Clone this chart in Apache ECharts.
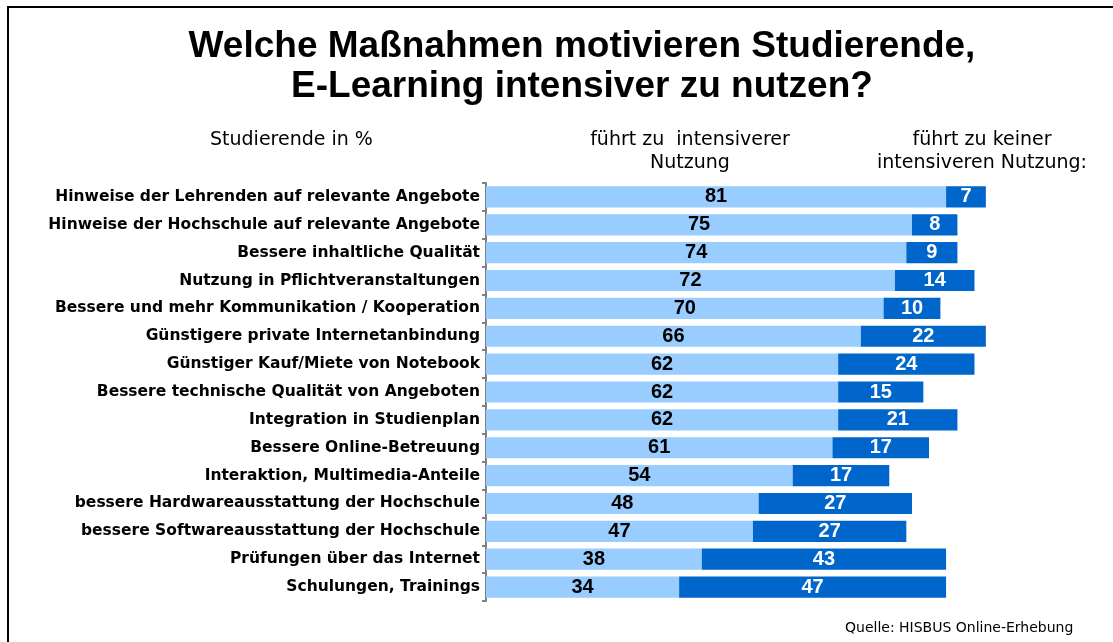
<!DOCTYPE html>
<html>
<head>
<meta charset="utf-8">
<script src="https://cdn.jsdelivr.net/npm/echarts@6/dist/echarts.min.js"></script>
<style>
  html, body { margin: 0; padding: 0; background: #fff; }
  #chart { width: 1113px; height: 642px; }
</style>
</head>
<body>
<div id="chart"></div>
<script>
// Maßnahmen (von oben nach unten)
const categories = [
  'Hinweise der Lehrenden auf relevante Angebote',
  'Hinweise der Hochschule auf relevante Angebote',
  'Bessere inhaltliche Qualität',
  'Nutzung in Pflichtveranstaltungen',
  'Bessere und mehr Kommunikation / Kooperation',
  'Günstigere private Internetanbindung',
  'Günstiger Kauf/Miete von Notebook',
  'Bessere technische Qualität von Angeboten',
  'Integration in Studienplan',
  'Bessere Online-Betreuung',
  'Interaktion, Multimedia-Anteile',
  'bessere Hardwareausstattung der Hochschule',
  'bessere Softwareausstattung der Hochschule',
  'Prüfungen über das Internet',
  'Schulungen, Trainings'
]
// führt zu intensiverer Nutzung
const intensiver = [81, 75, 74, 72, 70, 66, 62, 62, 62, 61, 54, 48, 47, 38, 34]
// führt zu keiner intensiveren Nutzung
const keine = [7, 8, 9, 14, 10, 22, 24, 15, 21, 17, 17, 27, 27, 43, 47]

const font = 'Liberation Sans, Arial, sans-serif'
const wide = 'DejaVu Sans, Verdana, sans-serif'

let myChart = echarts.init(document.getElementById('chart'))
let option = {
  backgroundColor: '#fff',
  animation: false,
  title: {
    text: 'Welche Maßnahmen motivieren Studierende,\nE-Learning intensiver zu nutzen?',
    left: 577,
    textAlign: 'center',
    top: 22,
    textStyle: {
      fontFamily: font,
      fontSize: 37,
      fontWeight: 'bold',
      color: '#000',
      lineHeight: 40
    }
  },
  grid: {
    left: 486,
    right: 59,
    top: 183,
    bottom: 41
  },
  xAxis: {
    type: 'value',
    min: 0,
    max: 100,
    show: false
  },
  yAxis: {
    type: 'category',
    inverse: true,
    data: categories,
    axisLine: { show: true, lineStyle: { color: '#808080', width: 2 } },
    axisTick: { show: true, length: 4, lineStyle: { color: '#808080', width: 2 } },
    axisLabel: {
      fontFamily: wide,
      fontSize: 15.5,
      fontWeight: 'bold',
      color: '#000',
      margin: 6
    }
  },
  series: [
    {
      name: 'führt zu intensiverer Nutzung',
      type: 'bar',
      stack: 'total',
      data: intensiver,
      barCategoryGap: '24%',
      itemStyle: { color: '#99ccff' },
      label: {
        show: true,
        position: 'inside',
        fontFamily: font,
        fontSize: 20,
        fontWeight: 'bold',
        color: '#000'
      }
    },
    {
      name: 'führt zu keiner intensiveren Nutzung',
      type: 'bar',
      stack: 'total',
      data: keine,
      itemStyle: { color: '#0066cc' },
      label: {
        show: true,
        position: 'inside',
        fontFamily: font,
        fontSize: 20,
        fontWeight: 'bold',
        color: '#fff'
      }
    }
  ],
  graphic: [
    // Rahmen oben und links
    { type: 'line', shape: { x1: 8, y1: 7, x2: 1113, y2: 7 }, style: { stroke: '#000', lineWidth: 2 } },
    { type: 'line', shape: { x1: 8, y1: 6, x2: 8, y2: 642 }, style: { stroke: '#000', lineWidth: 2 } },
    {
      type: 'text', left: 210, top: 131,
      style: { text: 'Studierende in %', font: '19px ' + wide, fill: '#000' }
    },
    {
      type: 'text', x: 690, y: 129,
      style: { text: 'führt zu  intensiverer\nNutzung', font: '19px ' + wide, fill: '#000', align: 'center', lineHeight: 23 }
    },
    {
      type: 'text', x: 982, y: 129,
      style: { text: 'führt zu keiner\nintensiveren Nutzung:', font: '19px ' + wide, fill: '#000', align: 'center', lineHeight: 23 }
    },
    {
      type: 'text', left: 845, top: 621,
      style: { text: 'Quelle: HISBUS Online-Erhebung', font: '14px ' + wide, fill: '#000' }
    }
  ]
}
option && myChart.setOption(option)
</script>
</body>
</html>
